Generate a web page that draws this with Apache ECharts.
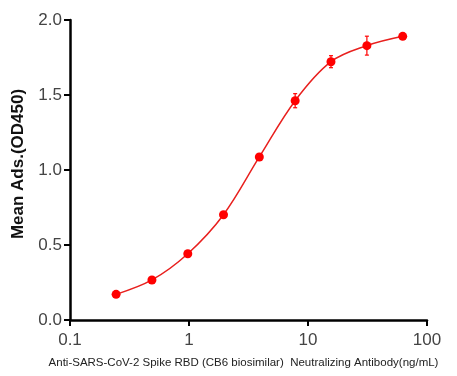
<!DOCTYPE html>
<html><head><meta charset="utf-8">
<script src="https://cdn.jsdelivr.net/npm/echarts@6/dist/echarts.min.js"></script>
<style>html,body{margin:0;padding:0;background:#fff}#c{width:457px;height:376px}</style>
</head><body><div id="c"></div>
<script>
const concentrations = [0.244, 0.488, 0.977, 1.95, 3.9, 7.8, 15.6, 31.25, 62.5];
const meanOD = [0.171, 0.267, 0.442, 0.702, 1.087, 1.462, 1.722, 1.829, 1.891];
const errorOD = [0.005, 0.008, 0.01, 0.012, 0.015, 0.047, 0.04, 0.063, 0.012];
const xTicks = [0.1, 1, 10, 100];
const yTicks = [0.0, 0.5, 1.0, 1.5, 2.0];

const pts = concentrations.map((x, i) => [x, meanOD[i]]);
const errData = concentrations.map((x, i) => [x, meanOD[i] - errorOD[i], meanOD[i] + errorOD[i]]);
const red = '#ff0000';
const chart = echarts.init(document.getElementById('c'));
chart.setOption({
  animation: false,
  grid: {left: 70, right: 30, top: 20, bottom: 56},
  xAxis: {
    type: 'log', logBase: 10, min: xTicks[0], max: xTicks[xTicks.length-1],
    name: 'Anti-SARS-CoV-2 Spike RBD (CB6 biosimilar)  Neutralizing Antibody(ng/mL)',
    nameLocation: 'middle', nameGap: 37,
    nameTextStyle: {fontFamily: 'Liberation Sans, Arial', fontSize: 11.5, color: '#222', padding: [0,0,0,-10]},
    axisLine: {lineStyle: {color: '#000', width: 2.5}},
    axisTick: {show: true, length: 6, lineStyle: {color: '#000', width: 2}},
    minorTick: {show: false},
    splitLine: {show: false},
    axisLabel: {fontFamily: 'Liberation Sans, Arial', fontSize: 17, color: '#444', margin: 12,
      formatter: v => String(v)}
  },
  yAxis: {
    type: 'value', min: 0, max: 2, interval: 0.5,
    name: 'Mean Ads.(OD450)', nameLocation: 'middle', nameGap: 43,
    nameTextStyle: {fontFamily: 'Liberation Sans, Arial', fontSize: 17, fontWeight: 'bold', color: '#111', padding: [0,0,0,12]},
    axisLine: {show: true, lineStyle: {color: '#000', width: 2.5}},
    axisTick: {show: true, length: 6, lineStyle: {color: '#000', width: 2}},
    splitLine: {show: false},
    axisLabel: {fontFamily: 'Liberation Sans, Arial', fontSize: 17, color: '#444', margin: 8,
      formatter: v => v.toFixed(1)}
  },
  series: [
    {type: 'line', data: pts, smooth: 0.35, symbol: 'circle', symbolSize: 9,
     itemStyle: {color: red}, lineStyle: {color: '#e8201e', width: 1.5}, z: 3},
    {type: 'custom', data: errData, z: 4,
     renderItem: function (params, api) {
       const x = api.value(0);
       const lo = api.coord([x, api.value(1)]);
       const hi = api.coord([x, api.value(2)]);
       const w = 2;
       const st = {stroke: red, lineWidth: 1.2};
       return {type: 'group', children: [
         {type: 'line', shape: {x1: lo[0], y1: lo[1], x2: hi[0], y2: hi[1]}, style: st},
         {type: 'line', shape: {x1: lo[0]-w, y1: lo[1], x2: lo[0]+w, y2: lo[1]}, style: st},
         {type: 'line', shape: {x1: hi[0]-w, y1: hi[1], x2: hi[0]+w, y2: hi[1]}, style: st}
       ]};
     }}
  ]
});
</script></body></html>
